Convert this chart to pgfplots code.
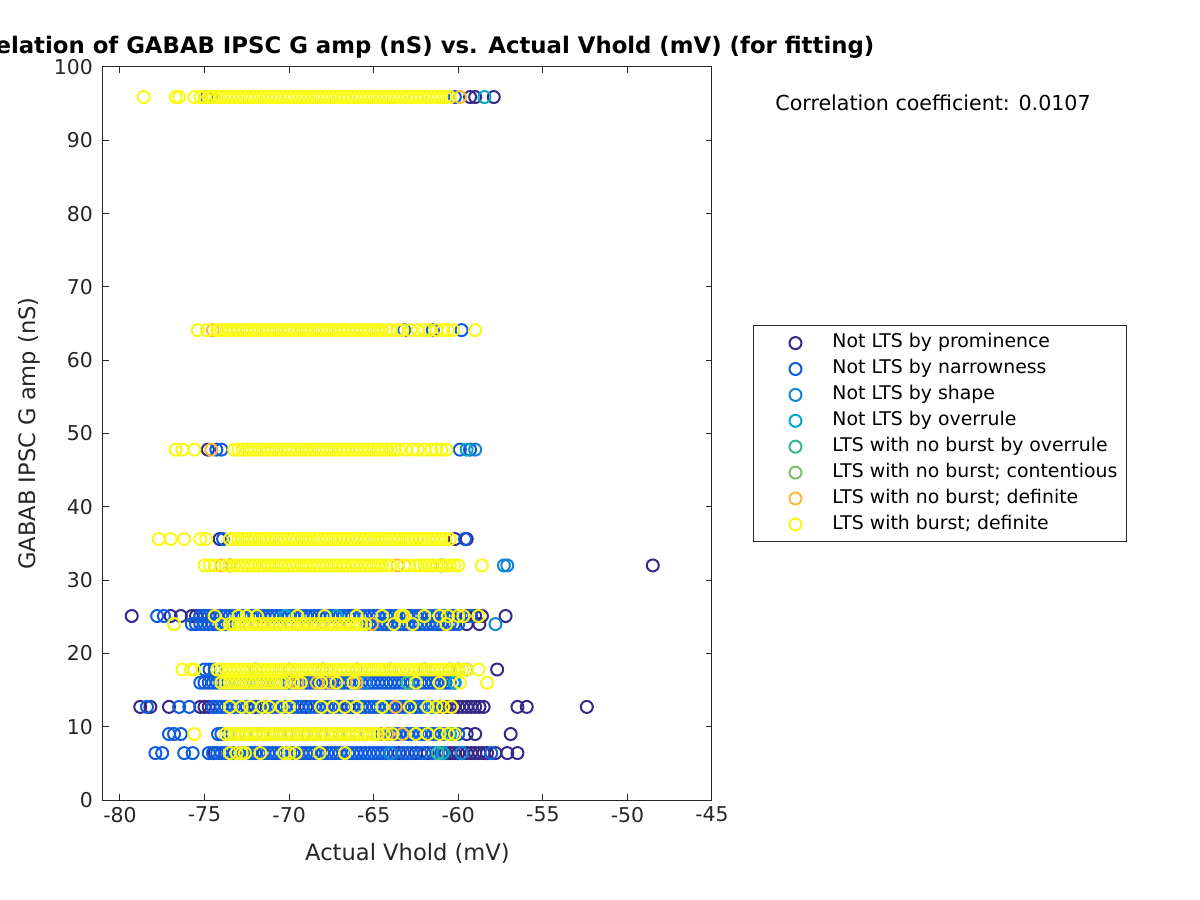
\documentclass[border=0pt]{standalone}
\usepackage{pgfplots}
\pgfplotsset{compat=1.18}
\usepackage{fontspec}
\setmainfont{DejaVu Sans}
\definecolor{c1}{RGB}{53,42,135}
\definecolor{c2}{RGB}{15,92,221}
\definecolor{c3}{RGB}{20,133,212}
\definecolor{c4}{RGB}{6,167,198}
\definecolor{c5}{RGB}{56,185,150}
\definecolor{c6}{RGB}{128,190,110}
\definecolor{c7}{RGB}{250,187,60}
\definecolor{c8}{RGB}{249,250,20}
\definecolor{axgray}{RGB}{38,38,38}
\pgfplotsset{sc/.style={only marks, mark=o, mark size=3pt, mark options={line width=1.0pt}, color=#1}}
\begin{document}
\begin{tikzpicture}
\begin{axis}[
  scale only axis, width=304.5pt, height=366.5pt,
  xmin=-81, xmax=-45, ymin=0, ymax=100,
  xtick={-80,-75,...,-45}, ytick={0,10,...,100},
  axis line style={axgray, line width=0.5pt},
  major tick style={axgray, line width=0.5pt},
  major tick length=3pt, tick align=inside,
  /pgf/number format/assume math mode=true,
  ticklabel style={font=\fontsize{10.2}{12}\selectfont, text=axgray},
  yticklabel style={xshift=-1.5pt},
  xlabel={Actual Vhold (mV)}, ylabel={GABAB IPSC G amp (nS)},
  label style={font=\fontsize{11.3}{13}\selectfont, text=axgray},
  xlabel style={yshift=-3.5pt},
  title={Correlation of GABAB IPSC G amp (nS) vs. Actual Vhold (mV) (for fitting)},
  title style={font=\bfseries\fontsize{11.4}{13}\selectfont, yshift=-5pt},
  legend cell align=left,
  legend style={at={(axis description cs:1,1)}, anchor=north west, xshift=20.5pt, yshift=-129pt,
    font=\fontsize{9.43}{11}\selectfont, draw=axgray, line width=0.5pt,
    inner xsep=3.5pt, inner ysep=3.2pt, row sep=1.75pt, column sep=0pt,
    nodes={inner sep=1pt, text height=7pt, text depth=2.2pt}},
  legend image code/.code={\path[draw=none] (0pt,0pt) -- (35pt,0pt); \draw[#1,/tikz/only marks] plot coordinates {(17.5pt,0pt)};},
]
% Not LTS by prominence
\addplot[sc=c1] coordinates {
(-59.3,95.9)(-59.0,95.9)(-57.9,95.9)
(-74.8,47.8)
(-60.2,35.6)(-59.5,35.6)(-74.1,35.6)
(-48.5,32.0)
(-79.3,25.1)(-77.0,25.1)(-76.4,25.1)(-75.75,25.1)(-75.5,25.1)(-75.25,25.1)(-75.0,25.1)(-74.75,25.1)(-66.5,25.1)(-63.0,25.1)(-60.5,25.1)(-60.0,25.1)(-59.5,25.1)(-59.0,25.1)(-58.6,25.1)(-57.2,25.1)
(-59.5,24.0)(-58.75,24.0)
(-57.7,17.8)
(-78.8,12.7)(-78.2,12.7)(-77.1,12.7)(-75.25,12.7)(-75.0,12.7)(-74.75,12.7)(-74.5,12.7)(-72.0,12.7)(-69.0,12.7)(-66.5,12.7)(-63.8,12.7)
(-61.0,12.7)(-60.75,12.7)(-60.5,12.7)(-60.25,12.7)(-60.0,12.7)(-59.75,12.7)(-59.5,12.7)(-59.25,12.7)(-59.0,12.7)(-58.75,12.7)(-58.5,12.7)(-56.5,12.7)(-55.95,12.7)(-52.4,12.7)
(-59.5,9.0)(-59.0,9.0)(-56.9,9.0)
(-74.4,6.4)(-63.5,6.4)(-62.5,6.4)(-61.8,6.4)(-60.75,6.4)(-60.5,6.4)(-60.25,6.4)(-60.0,6.4)(-59.75,6.4)(-59.5,6.4)(-59.25,6.4)(-59.0,6.4)(-58.75,6.4)(-58.5,6.4)(-58.3,6.4)(-57.8,6.4)(-57.1,6.4)(-56.5,6.4)
};
\addlegendentry{Not LTS by prominence}
% Not LTS by narrowness
\addplot[sc=c2] coordinates {
(-74.9,95.9)(-60.2,95.9)
(-63.2,64.1)(-61.5,64.1)(-59.8,64.1)
(-74.3,47.8)(-74.0,47.8)(-59.9,47.8)(-59.3,47.8)
(-73.9,35.6)(-59.6,35.6)
(-73.5,32.0)(-61.0,32.0)
(-77.8,25.1)(-77.4,25.1)
(-75.25,25.1)(-75,25.1)(-74.75,25.1)(-74.5,25.1)(-74.25,25.1)(-74,25.1)(-73.75,25.1)(-73.5,25.1)(-73.25,25.1)(-73,25.1)(-72.75,25.1)(-72.5,25.1)(-72.25,25.1)(-72,25.1)(-71.75,25.1)(-71.5,25.1)(-71.25,25.1)(-71,25.1)(-70.75,25.1)(-70.5,25.1)(-70.25,25.1)(-70,25.1)(-69.75,25.1)(-69.5,25.1)(-69.25,25.1)(-69,25.1)(-68.75,25.1)(-68.5,25.1)(-68.25,25.1)(-68,25.1)(-67.75,25.1)(-67.5,25.1)(-67.25,25.1)(-67,25.1)(-66.75,25.1)(-66.5,25.1)(-66.25,25.1)(-66,25.1)(-65.75,25.1)(-65.5,25.1)(-65.25,25.1)(-65,25.1)(-64.75,25.1)(-64.5,25.1)(-64.25,25.1)(-64,25.1)(-63.75,25.1)(-63.5,25.1)(-63.25,25.1)(-63,25.1)(-62.75,25.1)(-62.5,25.1)(-62.25,25.1)(-62,25.1)(-61.75,25.1)(-61.5,25.1)(-61.25,25.1)(-61,25.1)(-60.75,25.1)(-60.25,25.1)(-59.75,25.1)(-59.25,25.1)
(-75.75,24)(-75.5,24)(-75.25,24)(-75,24)(-74.75,24)(-74.5,24)(-74.25,24)(-74,24)(-73.75,24)(-73.5,24)(-73,24)(-72.5,24)(-72,24)(-71.5,24)(-71,24)(-70.5,24)(-70,24)(-69.5,24)(-69,24)(-68.5,24)(-68,24)(-67.5,24)(-67,24)(-66.5,24)(-66,24)(-65.5,24)(-65.25,24)(-65,24)(-64.75,24)(-64.5,24)(-64.25,24)(-64,24)(-63.75,24)(-63.5,24)(-63.25,24)(-63,24)(-62.75,24)(-62.5,24)(-62.25,24)(-62,24)(-61.75,24)(-61.5,24)(-61.25,24)(-61,24)(-60.75,24)(-60.5,24)(-60.25,24)(-60,24)
(-75.0,17.8)(-74.7,17.8)(-74.4,17.8)(-72,17.8)(-70,17.8)(-68,17.8)(-66,17.8)(-64,17.8)(-62,17.8)(-60.5,17.8)(-60,17.8)(-59.5,17.8)
(-75.25,16)(-75,16)(-74.75,16)(-74.5,16)(-74.25,16)(-74,16)(-73.75,16)(-73.5,16)(-73.25,16)(-73,16)(-72.75,16)(-72.5,16)(-72.25,16)(-72,16)(-71.75,16)(-71.5,16)(-71.25,16)(-71,16)(-70.75,16)(-70.5,16)(-70.25,16)(-70,16)(-69.75,16)(-69.5,16)(-69.25,16)(-69,16)(-68.75,16)(-68.5,16)(-68.25,16)(-68,16)(-67.75,16)(-67.5,16)(-67.25,16)(-67,16)(-66.75,16)(-66.5,16)(-66.25,16)(-66,16)(-65.75,16)(-65.5,16)(-65.25,16)(-65,16)(-64.75,16)(-64.5,16)(-64.25,16)(-64,16)(-63.75,16)(-63.5,16)(-63.25,16)(-63,16)(-62.75,16)(-62.5,16)(-62.25,16)(-62,16)(-61.75,16)(-61.5,16)(-61.25,16)(-61,16)(-60.75,16)(-60.5,16)(-60.25,16)
(-78.4,12.7)(-76.5,12.7)(-75.9,12.7)
(-74.5,12.7)(-74.25,12.7)(-74,12.7)(-73.75,12.7)(-73.5,12.7)(-73.25,12.7)(-73,12.7)(-72.75,12.7)(-72.5,12.7)(-72.25,12.7)(-71.75,12.7)(-71.5,12.7)(-71.25,12.7)(-71,12.7)(-70.75,12.7)(-70.5,12.7)(-70.25,12.7)(-70,12.7)(-69.75,12.7)(-69.5,12.7)(-69.25,12.7)(-68.75,12.7)(-68.5,12.7)(-68.25,12.7)(-68,12.7)(-67.75,12.7)(-67.5,12.7)(-67.25,12.7)(-67,12.7)(-66.75,12.7)(-66.25,12.7)(-66,12.7)(-65.75,12.7)(-65.5,12.7)(-65.25,12.7)(-65,12.7)(-64.75,12.7)(-64.25,12.7)(-64,12.7)(-63.5,12.7)(-63.25,12.7)(-63,12.7)(-62.75,12.7)(-62.5,12.7)(-62.25,12.7)(-62,12.7)(-61.75,12.7)(-61.5,12.7)(-61.25,12.7)
(-77.1,9)(-76.8,9)(-76.4,9)(-74.2,9)
(-74,9)(-73.5,9)(-73,9)(-72.5,9)(-72,9)(-71.5,9)(-71,9)(-70.5,9)(-70,9)(-69.5,9)(-69,9)(-68.5,9)(-68,9)(-67.5,9)(-67,9)(-66.5,9)(-66,9)(-65.5,9)(-65,9)(-64.75,9)(-64.5,9)(-64.25,9)(-64,9)(-63.75,9)(-63.5,9)(-63.25,9)(-63,9)(-62.75,9)(-62.5,9)(-62.25,9)(-62,9)(-61.75,9)(-61.5,9)(-61.25,9)(-61,9)(-60.75,9)(-60.5,9)(-60.25,9)(-60,9)
(-77.9,6.4)(-77.5,6.4)(-76.2,6.4)(-75.7,6.4)(-58.05,6.4)
(-74.75,6.4)(-74.5,6.4)(-74.25,6.4)(-74,6.4)(-73.75,6.4)(-73.5,6.4)(-73.25,6.4)(-73,6.4)(-72.75,6.4)(-72.5,6.4)(-72.25,6.4)(-72,6.4)(-71.75,6.4)(-71.5,6.4)(-71.25,6.4)(-71,6.4)(-70.75,6.4)(-70.5,6.4)(-70.25,6.4)(-70,6.4)(-69.75,6.4)(-69.5,6.4)(-69.25,6.4)(-69,6.4)(-68.75,6.4)(-68.5,6.4)(-68.25,6.4)(-68,6.4)(-67.75,6.4)(-67.5,6.4)(-67.25,6.4)(-67,6.4)(-66.75,6.4)(-66.5,6.4)(-66.25,6.4)(-66,6.4)(-65.75,6.4)(-65.5,6.4)(-65.25,6.4)(-65,6.4)(-64.75,6.4)(-64.5,6.4)(-64.25,6.4)(-64,6.4)(-63.75,6.4)(-63.25,6.4)(-63,6.4)(-62.75,6.4)(-62.25,6.4)(-62,6.4)(-61.5,6.4)(-61.25,6.4)(-61,6.4)
};
\addlegendentry{Not LTS by narrowness}
% Not LTS by shape
\addplot[sc=c3] coordinates {
(-59.0,47.8)(-57.3,32.0)(-57.1,32.0)(-57.8,24.0)(-65.5,16.0)(-61.5,12.7)(-64.0,6.4)(-59.8,6.4)
};
\addlegendentry{Not LTS by shape}
% Not LTS by overrule
\addplot[sc=c4] coordinates {
(-58.45,95.9)(-59.5,47.8)(-70.2,25.1)(-67.2,25.1)(-60.2,16.0)(-64.5,12.7)(-60.5,9.0)(-60.9,6.4)
};
\addlegendentry{Not LTS by overrule}
% LTS with no burst by overrule
\addplot[sc=c5] coordinates {
(-62.0,25.1)(-63.0,16.0)(-61.2,6.4)
};
\addlegendentry{LTS with no burst by overrule}
% LTS with no burst; contentious
\addplot[sc=c6] coordinates {
(-76.8,24.0)(-66.5,9.0)
};
\addlegendentry{LTS with no burst; contentious}
% LTS with no burst; definite
\addplot[sc=c7] coordinates {
(-59.9,95.9)(-74.6,95.9)(-74.5,64.1)(-74.6,47.8)(-74.0,32.0)(-63.6,32.0)(-65.1,24.0)(-63.3,25.1)
(-69.5,16.0)(-68.35,16.0)(-67.6,16.0)(-66.0,16.0)(-63.7,12.7)(-63.3,9.0)(-64.2,9.0)
};
\addlegendentry{LTS with no burst; definite}
% LTS with burst; definite
\addplot[sc=c8] coordinates {
(-78.6,95.9)(-76.7,95.9)(-76.5,95.9)(-75.6,95.9)(-75.25,95.9)
(-75,95.9)(-74.75,95.9)(-74.5,95.9)(-74.25,95.9)(-74,95.9)(-73.75,95.9)(-73.5,95.9)(-73.25,95.9)(-73,95.9)(-72.75,95.9)(-72.5,95.9)(-72.25,95.9)(-72,95.9)(-71.75,95.9)(-71.5,95.9)(-71.25,95.9)(-71,95.9)(-70.75,95.9)(-70.5,95.9)(-70.25,95.9)(-70,95.9)(-69.75,95.9)(-69.5,95.9)(-69.25,95.9)(-69,95.9)(-68.75,95.9)(-68.5,95.9)(-68.25,95.9)(-68,95.9)(-67.75,95.9)(-67.5,95.9)(-67.25,95.9)(-67,95.9)(-66.75,95.9)(-66.5,95.9)(-66.25,95.9)(-66,95.9)(-65.75,95.9)(-65.5,95.9)(-65.25,95.9)(-65,95.9)(-64.75,95.9)(-64.5,95.9)(-64.25,95.9)(-64,95.9)(-63.75,95.9)(-63.5,95.9)(-63.25,95.9)(-63,95.9)(-62.75,95.9)(-62.5,95.9)(-62.25,95.9)(-62,95.9)(-61.75,95.9)(-61.5,95.9)(-61.25,95.9)(-61,95.9)(-60.75,95.9)(-60.5,95.9)
(-75.4,64.1)(-74.85,64.1)(-59.0,64.1)
(-74.25,64.1)(-74,64.1)(-73.75,64.1)(-73.5,64.1)(-73.25,64.1)(-73,64.1)(-72.75,64.1)(-72.5,64.1)(-72.25,64.1)(-72,64.1)(-71.75,64.1)(-71.5,64.1)(-71.25,64.1)(-71,64.1)(-70.75,64.1)(-70.5,64.1)(-70.25,64.1)(-70,64.1)(-69.75,64.1)(-69.5,64.1)(-69.25,64.1)(-69,64.1)(-68.75,64.1)(-68.5,64.1)(-68.25,64.1)(-68,64.1)(-67.75,64.1)(-67.5,64.1)(-67.25,64.1)(-67,64.1)(-66.75,64.1)(-66.5,64.1)(-66.25,64.1)(-66,64.1)(-65.75,64.1)(-65.5,64.1)(-65.25,64.1)(-65,64.1)(-64.75,64.1)(-64.5,64.1)(-64.25,64.1)(-64,64.1)(-63.6,64.1)(-63.3,64.1)(-62.8,64.1)(-62.4,64.1)(-62,64.1)(-61.7,64.1)(-61.3,64.1)(-60.9,64.1)(-60.6,64.1)(-60.3,64.1)
(-76.7,47.8)(-76.3,47.8)(-75.6,47.8)
(-73.25,47.8)(-73,47.8)(-72.75,47.8)(-72.5,47.8)(-72.25,47.8)(-72,47.8)(-71.75,47.8)(-71.5,47.8)(-71.25,47.8)(-71,47.8)(-70.75,47.8)(-70.5,47.8)(-70.25,47.8)(-70,47.8)(-69.75,47.8)(-69.5,47.8)(-69.25,47.8)(-69,47.8)(-68.75,47.8)(-68.5,47.8)(-68.25,47.8)(-68,47.8)(-67.75,47.8)(-67.5,47.8)(-67.25,47.8)(-67,47.8)(-66.75,47.8)(-66.5,47.8)(-66.25,47.8)(-66,47.8)(-65.75,47.8)(-65.5,47.8)(-65.25,47.8)(-65,47.8)(-64.75,47.8)(-64.5,47.8)(-64.25,47.8)(-64,47.8)(-63.75,47.8)(-63.5,47.8)(-63.1,47.8)(-62.7,47.8)(-62.4,47.8)(-62,47.8)(-61.6,47.8)(-61.3,47.8)(-61,47.8)(-60.7,47.8)
(-77.7,35.6)(-77.0,35.6)(-76.2,35.6)(-75.25,35.6)(-74.9,35.6)
(-73.5,35.6)(-73.25,35.6)(-73,35.6)(-72.75,35.6)(-72.5,35.6)(-72.25,35.6)(-72,35.6)(-71.75,35.6)(-71.5,35.6)(-71.25,35.6)(-71,35.6)(-70.75,35.6)(-70.5,35.6)(-70.25,35.6)(-70,35.6)(-69.75,35.6)(-69.5,35.6)(-69.25,35.6)(-69,35.6)(-68.75,35.6)(-68.5,35.6)(-68.25,35.6)(-68,35.6)(-67.75,35.6)(-67.5,35.6)(-67.25,35.6)(-67,35.6)(-66.75,35.6)(-66.5,35.6)(-66.25,35.6)(-66,35.6)(-65.75,35.6)(-65.5,35.6)(-65.25,35.6)(-65,35.6)(-64.75,35.6)(-64.5,35.6)(-64.25,35.6)(-64,35.6)(-63.75,35.6)(-63.5,35.6)(-63.25,35.6)(-63,35.6)(-62.75,35.6)(-62.5,35.6)(-62.25,35.6)(-62,35.6)(-61.75,35.6)(-61.5,35.6)(-61.25,35.6)(-61,35.6)(-60.75,35.6)(-60.5,35.6)
(-75.0,32)(-74.7,32)(-74.4,32)(-58.6,32)
(-73.75,32)(-73.5,32)(-73.25,32)(-73,32)(-72.75,32)(-72.5,32)(-72.25,32)(-72,32)(-71.75,32)(-71.5,32)(-71.25,32)(-71,32)(-70.75,32)(-70.5,32)(-70.25,32)(-70,32)(-69.75,32)(-69.5,32)(-69.25,32)(-69,32)(-68.75,32)(-68.5,32)(-68.25,32)(-68,32)(-67.75,32)(-67.5,32)(-67.25,32)(-67,32)(-66.75,32)(-66.5,32)(-66.25,32)(-66,32)(-65.75,32)(-65.5,32)(-65.25,32)(-65,32)(-64.75,32)(-64.5,32)(-64.25,32)(-64,32)(-63.2,32)(-62.9,32)(-62.5,32)(-62.25,32)(-62,32)(-61.75,32)(-61.5,32)(-61.25,32)(-61,32)(-60.75,32)(-60.5,32)(-60.25,32)(-60,32)
(-74.4,25.1)(-73.0,25.1)(-72.5,25.1)(-71.9,25.1)(-69.5,25.1)(-67.9,25.1)(-66.0,25.1)(-64.5,25.1)(-63.4,25.1)(-63.2,25.1)(-62.0,25.1)(-61.1,25.1)(-60.6,25.1)(-60.0,25.1)(-59.7,25.1)(-58.8,25.1)
(-76.8,24)(-74.0,24)(-63.8,24)(-62.7,24)(-60.7,24)
(-73.5,24)(-73.25,24)(-73,24)(-72.75,24)(-72.5,24)(-72.25,24)(-72,24)(-71.75,24)(-71.5,24)(-71.25,24)(-71,24)(-70.75,24)(-70.5,24)(-70.25,24)(-70,24)(-69.75,24)(-69.5,24)(-69.25,24)(-69,24)(-68.75,24)(-68.5,24)(-68.25,24)(-68,24)(-67.75,24)(-67.5,24)(-67.25,24)(-67,24)(-66.75,24)(-66.5,24)(-66.25,24)(-66,24)(-65.75,24)(-65.5,24)
(-76.3,17.8)(-75.8,17.8)(-75.6,17.8)(-58.8,17.8)
(-74.25,17.8)(-74,17.8)(-73.75,17.8)(-73.5,17.8)(-73.25,17.8)(-73,17.8)(-72.75,17.8)(-72.5,17.8)(-72.25,17.8)(-72,17.8)(-71.75,17.8)(-71.5,17.8)(-71.25,17.8)(-71,17.8)(-70.75,17.8)(-70.5,17.8)(-70.25,17.8)(-70,17.8)(-69.75,17.8)(-69.5,17.8)(-69.25,17.8)(-69,17.8)(-68.75,17.8)(-68.5,17.8)(-68.25,17.8)(-68,17.8)(-67.75,17.8)(-67.5,17.8)(-67.25,17.8)(-67,17.8)(-66.75,17.8)(-66.5,17.8)(-66.25,17.8)(-66,17.8)(-65.75,17.8)(-65.5,17.8)(-65.25,17.8)(-65,17.8)(-64.75,17.8)(-64.5,17.8)(-64.25,17.8)(-64,17.8)(-63.75,17.8)(-63.5,17.8)(-63.25,17.8)(-63,17.8)(-62.75,17.8)(-62.5,17.8)(-62.25,17.8)(-62,17.8)(-61.75,17.8)(-61.5,17.8)(-61.25,17.8)(-61,17.8)(-60.75,17.8)(-60.5,17.8)(-60.25,17.8)(-60,17.8)(-59.75,17.8)(-59.5,17.8)
(-74,16)(-73.75,16)(-73.5,16)(-73.25,16)(-73,16)(-72.75,16)(-72.5,16)(-72.25,16)(-72,16)(-71.75,16)(-71.5,16)(-71.25,16)(-71,16)(-70.75,16)(-70.5,16)(-70.25,16)
(-69.75,16)(-69.3,16)(-68.1,16)(-67.2,16)(-66.2,16)(-62.5,16)(-61.1,16)(-59.9,16)(-58.3,16)
(-73.5,12.7)(-72.8,12.7)(-72.3,12.7)(-71.6,12.7)(-71.2,12.7)(-70.45,12.7)(-70.0,12.7)(-68.1,12.7)(-67.4,12.7)(-66.7,12.7)(-66.0,12.7)(-64.5,12.7)(-62.85,12.7)(-61.8,12.7)(-61.3,12.7)(-60.9,12.7)(-60.4,12.7)
(-75.6,9)
(-73.75,9)(-73.5,9)(-73.25,9)(-73,9)(-72.75,9)(-72.5,9)(-72.25,9)(-72,9)(-71.75,9)(-71.5,9)(-71.25,9)(-71,9)(-70.75,9)(-70.5,9)(-70.25,9)(-70,9)(-69.75,9)(-69.5,9)(-69.25,9)(-69,9)(-68.75,9)(-68.5,9)(-68.25,9)(-68,9)(-67.75,9)(-67.5,9)(-67.25,9)(-67,9)(-66.75,9)(-66.5,9)(-66.25,9)(-66,9)(-65.75,9)(-65.5,9)(-65.25,9)(-65,9)(-64.75,9)
(-64.4,9)(-63.9,9)(-62.5,9)(-61.8,9)(-61.1,9)(-60.6,9)(-60.2,9)
(-73.5,6.4)(-73.1,6.4)(-72.8,6.4)(-72.6,6.4)(-71.7,6.4)(-70.3,6.4)(-70.0,6.4)(-69.6,6.4)(-68.2,6.4)(-66.7,6.4)
};
\addlegendentry{LTS with burst; definite}
\end{axis}
\node[anchor=west, inner sep=0pt, font=\fontsize{10.3}{12}\selectfont] at ([shift={(336pt,348.5pt)}]current axis.south west) {Correlation coefficient: 0.0107};
\pgfresetboundingbox
\useasboundingbox ([shift={(-51.5pt,-50pt)}]current axis.south west) rectangle ([shift={(548.5pt,400pt)}]current axis.south west);
\end{tikzpicture}
\end{document}
